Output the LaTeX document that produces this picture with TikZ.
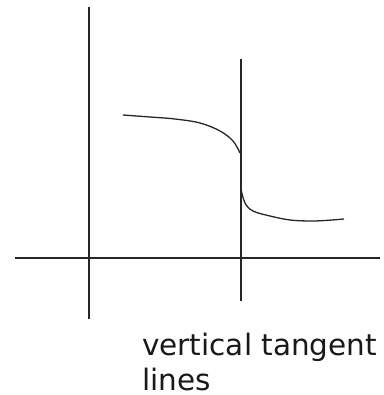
\documentclass[tikz,border=0pt]{standalone}
\usepackage{fontspec}
\setmainfont{DejaVu Sans}
\begin{document}
\begin{tikzpicture}[x=1pt,y=-1pt,
  axis/.style={line width=1.3pt,black!85},
  curve/.style={line width=1.3pt,black!85,line join=round},
  lbl/.style={anchor=base west,inner sep=0pt,font=\fontsize{29.5}{36}\selectfont,text=black!90}]
\useasboundingbox (0,0) rectangle (383,395);
\coordinate (yt) at (89,7);
\coordinate (yb) at (89,319);
\coordinate (xl) at (15,258);
\coordinate (xr) at (380,258);
\coordinate (vt) at (241,59);
\coordinate (vb) at (241,301);
\draw[axis] (yt) -- (yb);
\draw[axis] (xl) -- (xr);
\draw[axis] (vt) -- (vb);
\draw[curve] plot[smooth,tension=0.6] coordinates {(123,115) (150,117) (175,119) (200,123) (220,131) (233,141) (240,153)};
\draw[curve] plot[smooth,tension=0.6] coordinates {(241,189) (245,203) (253,211) (270,216) (290,220) (310,221) (325,220.5) (344,219)};
\node[lbl] (t1) at (142,355) {vertical tangent};
\node[lbl] (t2) at (142,390) {lines};
\end{tikzpicture}
\end{document}
